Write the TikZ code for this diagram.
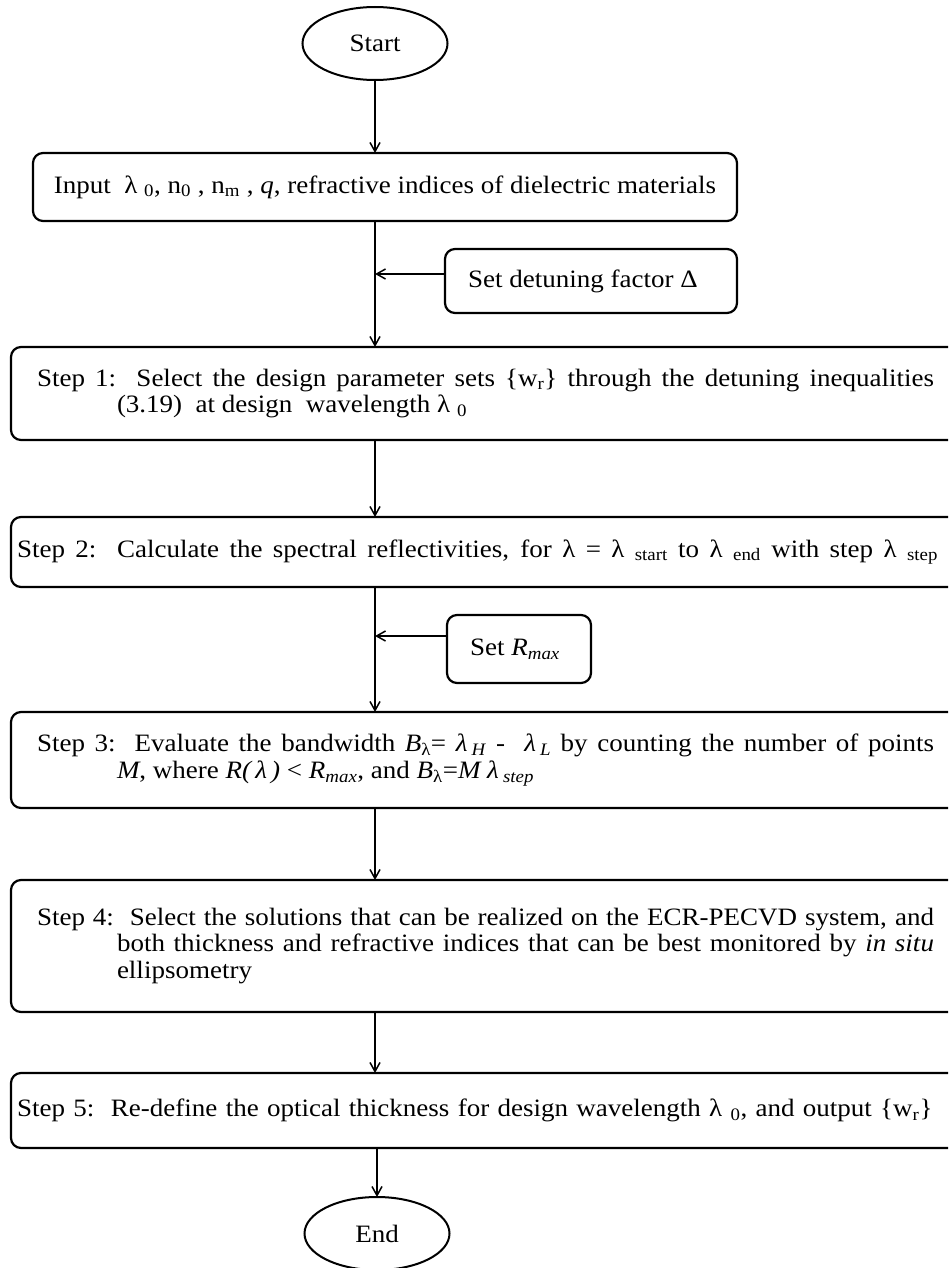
\documentclass[tikz,border=0pt]{standalone}
\usepackage{fontspec}
\setmainfont{Liberation Serif}[FakeStretch=1.08]
\usetikzlibrary{shapes.geometric,arrows.meta}
\newcommand{\hangpar}[1]{\parbox{897pt}{\hangindent=80pt\hangafter=1 #1}}
\newcommand{\fillline}[2]{{\spaceskip=0.25em plus 1fil\xspaceskip=0.25em plus 1fil\hbox to #1{#2}}}
\begin{document}
\begin{tikzpicture}[x=1pt,y=1pt,
  txt/.style={font=\fontsize{25}{26.7}\selectfont},
  boxline/.style={draw, line width=2.2pt, rounded corners=10pt, outer sep=0pt},
  ell/.style={draw, ellipse, line width=2pt, minimum width=145pt, minimum height=73pt, inner sep=0pt, outer sep=0pt, txt},
  inbox/.style={boxline, txt, minimum width=704pt, minimum height=68pt, inner sep=0pt},
  sidebox/.style={boxline, txt, inner sep=0pt},
  stepA/.style={boxline, txt, anchor=north west, inner xsep=26pt, inner ysep=0pt},
  stepB/.style={boxline, txt, anchor=north west, inner xsep=6pt, inner ysep=0pt, text width=937pt, align=left},
  conn/.style={line width=1.5pt, -{Straight Barb[length=9pt,width=10pt,line width=1.5pt]}}
]
\useasboundingbox (0,0) rectangle (948,-1268);
\clip (0,0) rectangle (948,-1268);

\node[ell] (start) at (375,-43.5) {Start};

\node[inbox] (input) at (385,-187) {Input\ \ λ\ \textsubscript{0}, n\textsubscript{0} , n\textsubscript{m} , \textit{q}, refractive indices of dielectric materials};

\node[sidebox, minimum width=292pt, minimum height=64pt] (sd) at (591,-281) {\hspace*{-16pt}Set detuning factor Δ};

\node[stepA, minimum height=93pt] (s1) at (11,-347) {\hangpar{Step 1:\ \ Select the design parameter sets \{w\textsubscript{r}\} through the detuning inequalities \linebreak (3.19)\ \ at design\ \ wavelength λ\ \textsubscript{0}}};

\node[stepB, minimum height=70pt] (s2) at (11,-517) {\fillline{921pt}{Step 2: \ Calculate the spectral reflectivities, for λ = λ \textsubscript{start} to λ \textsubscript{end} with step λ \textsubscript{step}}};

\node[sidebox, minimum width=144pt, minimum height=68pt] (sr) at (519,-649) {\hspace*{-8pt}Set \textit{R}\textsubscript{\textit{max}}};

\node[stepA, minimum height=96pt] (s3) at (11,-712) {\hangpar{Step 3:\ \ Evaluate the bandwidth \textit{B}\textsubscript{λ}= \textit{λ}\,\textsubscript{\textit{H}} -\ \ \textit{λ}\,\textsubscript{\textit{L}} by counting the number of points \linebreak \textit{M}, where \textit{R(\,λ\,)} < \textit{R}\textsubscript{\textit{max}}, and \textit{B}\textsubscript{λ}=\textit{M λ}\,\textsubscript{\textit{step}}}};

\node[stepA, minimum height=132pt] (s4) at (11,-880) {\hangpar{Step 4:\ \ Select the solutions that can be realized on the ECR-PECVD system, and \linebreak both thickness and refractive indices that can be best monitored by \textit{in situ} \linebreak ellipsometry}};

\node[stepB, minimum height=75pt] (s5) at (11,-1073) {Step 5:\ \ Re-define the optical thickness for design wavelength λ\ \textsubscript{0}, and output \{w\textsubscript{r}\}};

\node[ell] (end) at (377,-1233.5) {End};

\coordinate (j1) at (375,-274);
\coordinate (j2) at (375,-636);

\draw[conn] (start.south) -- (start.south |- input.north);
\draw[conn] (input.south -| start) -- (start |- s1.north);
\draw[conn] (sd.west |- j1) -- (j1);
\draw[conn] (s1.south -| start) -- (start |- s2.north);
\draw[conn] (sr.west |- j2) -- (j2);
\draw[conn] (s2.south -| start) -- (start |- s3.north);
\draw[conn] (s3.south -| start) -- (start |- s4.north);
\draw[conn] (s4.south -| start) -- (start |- s5.north);
\draw[conn] (s5.south -| end) -- (end.north);
\end{tikzpicture}
\end{document}
